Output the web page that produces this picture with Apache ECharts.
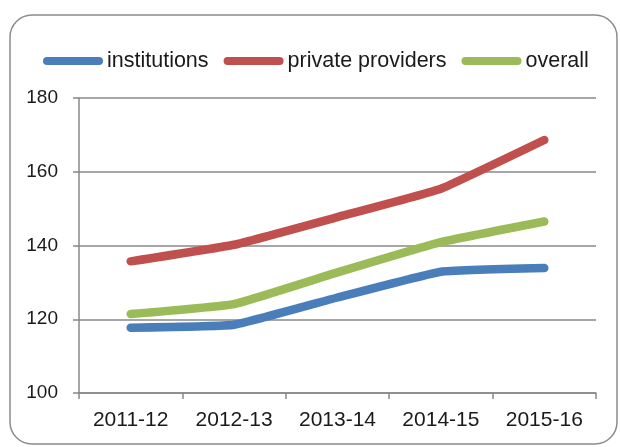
<!DOCTYPE html>
<html>
<head>
    <meta charset="UTF-8">
    <title>Chart</title>
    <script src="https://cdn.jsdelivr.net/npm/echarts@6/dist/echarts.min.js"></script>
    <style>
        body { margin: 0; background: #fff; }
        #main { width: 620px; height: 447px; }
    </style>
</head>
<body>
<div id="main"></div>
<script type="text/javascript">
    var years = ['2011-12', '2012-13', '2013-14', '2014-15', '2015-16'];
    var institutions = [117.7, 118.5, 125.9, 132.9, 133.9];
    var privateProviders = [135.7, 140.2, 147.7, 155.4, 168.6];
    var overall = [121.4, 124.1, 132.7, 140.9, 146.5];
    var yTicks = [100, 120, 140, 160, 180];

    var myChart = echarts.init(document.getElementById('main'));
    var font = 'Liberation Sans, Arial, sans-serif';
    var pill = 'path://M4,0 H56 A4,4 0 0 1 56,8 H4 A4,4 0 0 1 4,0 Z';

    function lineSeries(name, data, color) {
        return {
            name: name,
            type: 'line',
            data: data,
            smooth: 0.1,
            symbol: 'none',
            lineStyle: { width: 8.5, color: color, cap: 'round', join: 'round' },
            itemStyle: { color: color }
        };
    }

    var option = {
        animation: false,
        graphic: [{
            type: 'rect',
            shape: { x: 10, y: 15, width: 607, height: 429, r: 22 },
            style: { fill: 'none', stroke: '#8c8c8c', lineWidth: 1.5 },
            z: -1
        }],
        legend: {
            left: 38,
            top: 45,
            itemWidth: 60,
            itemHeight: 8,
            itemGap: 15,
            icon: pill,
            textStyle: { fontFamily: font, fontSize: 21.5, color: '#1a1a1a', padding: [0, 0, 0, -1] },
            data: ['institutions', 'private providers', 'overall']
        },
        grid: { left: 79, right: 24, top: 98, bottom: 54 },
        xAxis: {
            type: 'category',
            data: years,
            boundaryGap: true,
            axisLine: { lineStyle: { color: '#888', width: 1.5 } },
            axisTick: { show: true, length: 6, lineStyle: { color: '#888', width: 1.5 } },
            axisLabel: { fontFamily: font, fontSize: 21, color: '#1a1a1a', margin: 17 }
        },
        yAxis: {
            type: 'value',
            min: yTicks[0],
            max: yTicks[yTicks.length - 1],
            interval: 20,
            axisLine: { show: true, lineStyle: { color: '#888', width: 1.5 } },
            axisTick: { show: true, length: 6, lineStyle: { color: '#888', width: 1.5 } },
            axisLabel: { fontFamily: font, fontSize: 19, color: '#1a1a1a', margin: 21 },
            splitLine: { lineStyle: { color: '#888', width: 1.5 } }
        },
        series: [
            lineSeries('institutions', institutions, '#4a7ebb'),
            lineSeries('private providers', privateProviders, '#c0504d'),
            lineSeries('overall', overall, '#9bbb59')
        ]
    };

    myChart.setOption(option);
</script>
</body>
</html>
